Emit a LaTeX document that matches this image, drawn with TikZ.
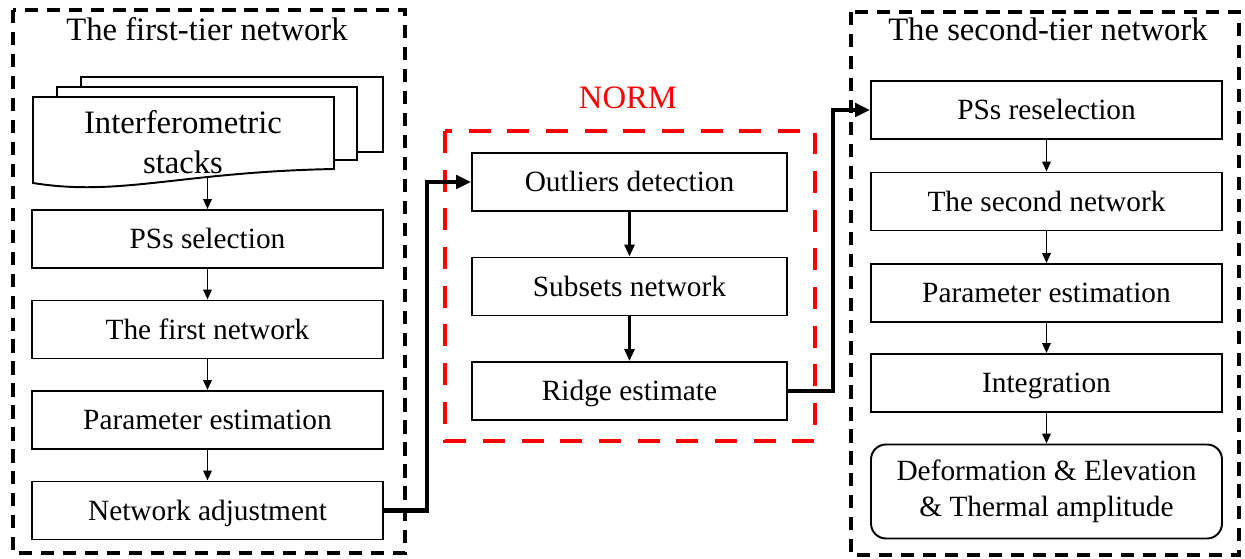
\documentclass[tikz,border=0pt]{standalone}
\usepackage{fontspec}
\setmainfont{Liberation Serif}
\usetikzlibrary{calc, positioning}
\usetikzlibrary{arrows.meta}
\newcommand\boxfont{\fontsize{16.7}{20.4}\selectfont}
\newcommand\headfont{\fontsize{18.6}{22.7}\selectfont}
\tikzset{
    box/.style={draw, fill=white, line width=1.1pt, inner sep=0pt, font=\boxfont},
    proc/.style={box, minimum width=7.02cm, minimum height=1.16cm, text height=11pt, text depth=0pt},
    midproc/.style={proc, minimum width=6.3cm},
    endproc/.style={box, rounded corners=0.3cm, minimum width=7.02cm, minimum height=1.88cm, align=center},
    tierframe/.style={line width=1.9pt, dash pattern=on 7.5pt off 5pt},
    normframe/.style={red, line width=2.3pt, dash pattern=on 12.5pt off 9.5pt},
    heading/.style={font=\headfont, inner sep=0pt},
    flow/.style={-{Triangle[length=0.2cm, width=0.17cm]}, line width=1.1pt},
    boldflow/.style={-{Triangle[length=0.24cm, width=0.2cm]}, line width=1.6pt},
    link/.style={-{Triangle[length=0.3cm, width=0.27cm]}, line width=2.3pt}
}

\begin{document}
\begin{tikzpicture}[node distance = 1.81cm, on grid]
      \useasboundingbox (0,0) rectangle (24.9,-11.18);

      % frames and their titles
      \draw[tierframe] (0.26,-0.2) rectangle (8.1,-11.06);
      \draw[tierframe] (17.02,-0.24) rectangle (24.78,-11.1);
      \draw[normframe] (8.9,-2.62) rectangle (16.3,-8.82);
      \node[heading] (tier1) at (4.14,-0.58) {The first-tier network};
      \node[heading] (tier2) at (20.96,-0.58) {The second-tier network};
      \node[heading, red] (norm) at (12.56,-1.96) {NORM};

      % stack of interferograms
      \draw[box] (1.62,-1.54) rectangle (7.66,-3.04);
      \draw[box] (1.14,-1.74) rectangle (7.14,-3.2);
      \draw[box] (0.66,-1.94) -- (6.68,-1.94) -- (6.68,-3.38)
        .. controls (3.6,-3.44) and (2.4,-3.94) .. (0.66,-3.66) -- cycle;
      \node[align=center, font=\headfont] (stacks) at (3.66,-2.84) {Interferometric\\stacks};
      \coordinate (wave) at (4.15,-3.54);

      % first tier
      \node[proc] (pss) at (4.15,-4.78) {PSs selection};
      \node[proc] (net1) [below = of pss] {The first network};
      \node[proc] (par1) [below = of net1] {Parameter estimation};
      \node[proc] (adj) [below = of par1] {Network adjustment};

      % NORM
      \node[midproc] (outl) at (12.59,-3.64) {Outliers detection};
      \node[midproc] (subs) [below = 2.09cm of outl] {Subsets network};
      \node[midproc] (ridge) [below = 2.09cm of subs] {Ridge estimate};

      % second tier
      \node[proc] (psr) at (20.93,-2.2) {PSs reselection};
      \node[proc] (net2) [below = 1.83cm of psr] {The second network};
      \node[proc] (par2) [below = 1.83cm of net2] {Parameter estimation};
      \node[proc] (integ) [below = 1.8cm of par2] {Integration};
      \node[endproc] (defo) [below = 2.17cm of integ] {Deformation \& Elevation\\\& Thermal amplitude};

      \path[flow]
        (wave) edge (pss)
        (pss) edge (net1)
        (net1) edge (par1)
        (par1) edge (adj)
        (psr) edge (net2)
        (net2) edge (par2)
        (par2) edge (integ)
        (integ) edge (defo);
      \path[boldflow]
        (outl) edge (subs)
        (subs) edge (ridge);

      \draw[link] (adj.east) -- ++(0.86,0) |- (outl.west);
      \draw[link] (ridge.east) -- ++(0.9,0) |- (psr.west);
     \end{tikzpicture}
\end{document}
